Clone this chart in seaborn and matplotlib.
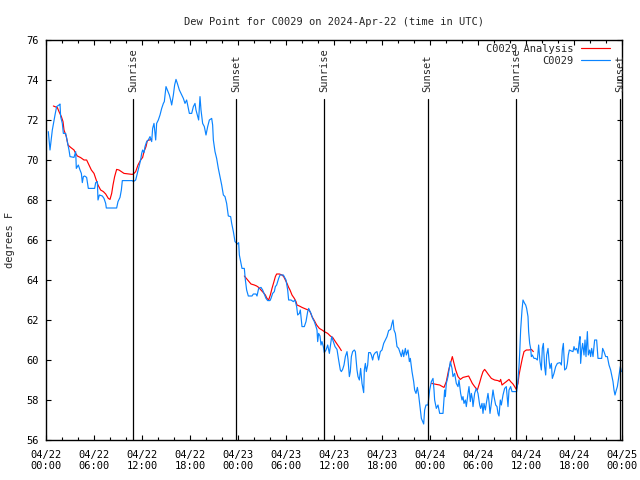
import pandas as pd
import matplotlib
matplotlib.use("Agg")
import matplotlib.pyplot as plt
import matplotlib.dates as mdates
import seaborn as sns

sns.set_style("ticks")
plt.rcParams["font.family"] = ["DejaVu Sans Mono"]
plt.rcParams["font.size"] = 7.5

# hours since 2024-04-22 00:00 UTC
blue_hours = [0.29, 0.5, 0.79, 1.125, 1.33, 1.625, 1.75, 1.83, 2.04, 2.17, 2.46, 2.67, 2.875, 3.0,
              3.5, 3.71, 3.79, 4.04, 4.25, 4.42, 4.54, 4.67, 4.83, 5.08, 5.29, 6.08, 6.21, 6.42,
              6.5, 6.67, 7.04, 7.25, 7.46, 7.54, 8.83, 9.0, 9.25, 9.42, 9.54, 10.79, 10.92, 11.21,
              11.42, 11.625, 11.83, 11.96, 12.08, 12.25, 12.375, 12.58, 12.79, 13.0, 13.21, 13.33,
              13.5, 13.71, 13.83, 14.04, 14.25, 14.46, 14.67, 14.79, 15.0, 15.17, 15.42, 15.58,
              15.71, 15.92, 16.08, 16.25, 16.42, 16.67, 16.96, 17.17, 17.375, 17.58, 17.71, 17.92,
              18.21, 18.42, 18.625, 18.75, 18.92, 19.08, 19.25, 19.375, 19.58, 19.79, 20.0, 20.21,
              20.42, 20.71, 20.83, 20.92, 21.125, 21.33, 21.54, 21.75, 21.96, 22.17, 22.375, 22.58,
              22.79, 23.08, 23.21, 23.42, 23.625, 23.92, 24.08, 24.17, 24.375, 24.5, 24.79, 24.92,
              25.08, 25.29, 25.75, 25.92, 26.25, 26.375, 26.58, 26.875, 27.08, 27.5, 27.71, 28.0,
              28.125, 28.33, 28.54, 28.67, 28.83, 29.08, 29.25, 29.67, 30.0, 30.21, 30.33, 30.625,
              30.92, 31.125, 31.33, 31.46, 31.67, 31.79, 32.0, 32.29, 32.5, 32.71, 32.83, 33.125,
              33.33, 33.54, 33.75, 33.875, 33.96, 34.08, 34.25, 34.375, 34.5, 34.67, 34.79, 35.0,
              35.21, 35.42, 35.71, 35.92, 36.125, 36.375, 36.58, 36.79, 36.92, 37.08, 37.25, 37.42,
              37.625, 37.75, 37.92, 38.04, 38.17, 38.33, 38.54, 38.67, 38.875, 39.0, 39.17, 39.33,
              39.5, 39.71, 39.79, 39.92, 40.04, 40.21, 40.33, 40.54, 40.67, 40.83, 40.96, 41.17,
              41.375, 41.58, 41.79, 42.0, 42.21, 42.42, 42.625, 42.83, 43.08, 43.25, 43.375, 43.5,
              43.67, 43.875, 44.08, 44.29, 44.42, 44.58, 44.71, 44.92, 45.04, 45.25, 45.42, 45.54,
              45.75, 45.96, 46.08, 46.25, 46.42, 46.58, 46.79, 46.92, 47.21, 47.33, 47.5, 47.75,
              47.96, 48.17, 48.375, 48.5, 48.58, 48.79, 49.0, 49.21, 49.625, 49.75, 49.83, 49.92,
              50.04, 50.25, 50.375, 50.54, 50.75, 50.875, 51.08, 51.29, 51.5, 51.625, 51.83, 52.0,
              52.125, 52.25, 52.42, 52.54, 52.75, 52.875, 53.04, 53.17, 53.29, 53.375, 53.58, 53.79,
              54.0, 54.21, 54.33, 54.5, 54.625, 54.75, 54.92, 55.04, 55.25, 55.375, 55.5, 55.67,
              55.875, 56.0, 56.21, 56.375, 56.5, 56.625, 56.79, 56.92, 57.125, 57.33, 57.54, 57.75,
              57.875, 58.08, 58.25, 58.42, 58.83, 59.0, 59.125, 59.21, 59.33, 59.5, 59.625, 59.83,
              59.96, 60.08, 60.25, 60.33, 60.46, 60.58, 60.67, 60.79, 61.0, 61.21, 61.42, 61.58,
              61.75, 61.92, 62.04, 62.17, 62.33, 62.46, 62.58, 62.75, 62.875, 63.0, 63.17, 63.29,
              63.5, 63.71, 63.92, 64.25, 64.42, 64.54, 64.67, 64.75, 64.83, 65.04, 65.17, 65.29,
              65.42, 65.67, 65.875, 66.0, 66.125, 66.33, 66.5, 66.625, 66.75, 66.83, 66.96, 67.08,
              67.25, 67.375, 67.5, 67.67, 67.79, 67.96, 68.08, 68.21, 68.375, 68.58, 68.83, 69.0,
              69.46, 69.58, 69.75, 69.96, 70.17, 70.375, 70.58, 70.71, 70.875, 71.0, 71.125, 71.29,
              71.42, 71.54, 71.67, 71.79, 71.92]
blue_vals = [71.42, 70.5, 71.5, 72.25, 72.67, 72.75, 72.8, 72.17, 71.83, 71.33, 71.33, 70.92, 70.5, 70.17,
             70.13, 70.42, 69.58, 69.75, 69.5, 69.33, 68.87, 69.17, 69.2, 69.13, 68.58, 68.58, 68.87, 68.92,
             68.0, 68.25, 68.2, 68.08, 67.83, 67.6, 67.6, 67.92, 68.13, 68.5, 68.97, 68.97, 68.92, 69.0,
             69.33, 69.67, 70.0, 70.33, 70.5, 70.37, 70.67, 70.92, 71.0, 71.17, 70.92, 71.58,
             71.83, 71.0, 71.83, 72.0, 72.25, 72.58, 72.83, 72.92, 73.67, 73.5, 73.25, 73.0,
             72.75, 73.25, 73.75, 74.03, 73.83, 73.5, 73.25, 73.08, 72.83, 73.0, 72.75, 72.33,
             72.33, 72.67, 72.83, 72.5, 72.25, 72.0, 73.17, 72.5, 71.83, 71.67, 71.25, 71.67,
             72.0, 72.08, 71.75, 71.0, 70.42, 70.08, 69.58, 69.17, 68.75, 68.25, 68.17, 67.83,
             67.2, 67.17, 66.83, 66.42, 65.92, 65.8, 65.87, 65.25, 64.83, 64.58, 64.58, 64.0,
             63.5, 63.2, 63.2, 63.3, 63.3, 63.2, 63.58, 63.63, 63.5, 63.08, 62.97, 62.97,
             63.08, 63.33, 63.42, 63.67, 63.75, 64.08, 64.25, 64.25, 64.0, 63.5, 63.0, 63.0,
             62.92, 63.0, 62.67, 62.25, 62.33, 62.5, 61.67, 61.67, 61.92, 62.42, 62.58, 62.33,
             62.08, 61.92, 61.67, 61.5, 60.92, 61.33, 61.2, 60.75, 60.92, 60.67, 60.37, 60.5,
             60.75, 60.33, 61.17, 60.92, 60.67, 60.53, 60.0, 59.5, 59.42, 59.53, 59.75, 60.17,
             60.42, 60.03, 59.17, 59.42, 60.17, 60.42, 60.5, 60.42, 59.5, 59.17, 59.0, 59.58,
             58.83, 58.37, 59.5, 59.83, 59.42, 59.75, 60.37, 60.37, 60.25, 60.0, 60.25, 60.37,
             60.42, 60.0, 60.42, 60.5, 60.83, 61.0, 61.17, 61.47, 61.53, 61.83, 62.0, 61.5,
             61.33, 60.67, 60.58, 60.33, 60.17, 60.5, 60.17, 60.58, 60.25, 60.5, 59.92, 60.08,
             59.42, 58.92, 58.5, 58.33, 58.63, 58.25, 57.5, 57.08, 56.8, 57.5, 57.75, 57.75,
             58.5, 58.92, 59.08, 58.5, 58.0, 57.58, 57.75, 57.33, 57.33, 58.0, 58.5, 58.17,
             58.83, 59.17, 59.5, 59.92, 59.58, 59.17, 59.33, 58.83, 58.67, 59.0, 58.33, 58.0,
             58.17, 57.83, 58.0, 57.67, 58.33, 58.67, 57.92, 58.33, 58.08, 57.67, 58.33, 58.58,
             58.33, 57.75, 57.58, 57.83, 57.33, 57.83, 57.5, 57.83, 58.33, 57.92, 57.33, 57.83,
             58.5, 58.17, 57.75, 57.67, 57.33, 57.2, 58.0, 57.75, 58.25, 58.58, 58.67, 57.67,
             58.5, 58.67, 58.42, 58.42, 58.42, 59.0, 59.67, 60.33, 61.5, 62.5, 63.0, 62.83,
             62.75, 62.58, 62.17, 61.42, 60.83, 60.58, 60.17, 60.25, 60.08, 60.08, 60.0, 60.75,
             59.92, 59.5, 60.58, 60.83, 59.67, 59.25, 60.25, 60.58, 60.0, 59.58, 59.83, 59.08,
             59.33, 59.67, 59.83, 59.87, 59.75, 60.5, 60.83, 60.17, 59.5, 59.58, 59.83, 60.25,
             60.5, 60.45, 60.42, 60.67, 60.5, 60.58, 60.33, 60.83, 61.17, 59.83, 60.5, 60.83,
             60.25, 61.0, 60.17, 61.42, 60.25, 60.5, 60.17, 60.58, 60.17, 61.0, 61.0, 60.08,
             60.08, 60.58, 60.42, 60.17, 60.17, 59.75, 59.5, 59.25, 58.92, 58.5, 58.25, 58.5,
             58.67, 59.0, 59.33, 59.67, 59.42]

# analysis series, three separate stretches
red_a_hours = [0.92, 1.42, 1.625, 1.92, 2.125, 2.25, 2.54, 2.75, 3.08, 3.5, 3.71, 3.92, 4.33, 4.75,
               5.08, 5.375, 5.67, 6.0, 6.21, 6.5, 6.83, 7.17, 7.46, 7.79, 8.0, 8.21, 8.375, 8.58,
               8.83, 9.125, 9.42, 9.75, 10.375, 10.79, 11.0, 11.21, 11.5, 11.83, 12.08, 12.25,
               12.5, 12.67, 12.92, 13.21]
red_a_vals = [72.7, 72.62, 72.42, 72.17, 71.92, 71.5, 71.17, 70.75, 70.63, 70.5, 70.33, 70.2, 70.12, 70.0,
              70.0, 69.75, 69.5, 69.33, 69.08, 68.75, 68.5, 68.42, 68.3, 68.08, 68.03, 68.33, 68.75, 69.17,
              69.53, 69.5, 69.42, 69.33, 69.3, 69.28, 69.33, 69.42, 69.75, 70.0, 70.13, 70.42,
              70.67, 70.97, 71.0, 71.03]
red_b_hours = [24.79, 25.21, 25.625, 26.04, 26.33, 26.58, 26.875, 27.17, 27.42, 27.625, 27.83, 28.04,
               28.25, 28.46, 28.67, 28.83, 29.17, 29.5, 29.71, 29.92, 30.125, 30.33, 30.5, 30.75,
               31.04, 31.25, 31.375, 31.67, 32.0, 32.29, 32.58, 32.83, 33.0, 33.25, 33.54, 33.83,
               34.17, 34.5, 34.79, 35.21, 35.54, 35.83, 36.17, 36.46, 36.67, 36.92]
red_b_vals = [64.2, 64.0, 63.8, 63.75, 63.7, 63.63, 63.5, 63.37, 63.25, 63.08, 63.0, 63.25,
              63.58, 63.87, 64.17, 64.3, 64.3, 64.25, 64.17, 64.0, 63.83, 63.63, 63.5, 63.25,
              63.08, 62.92, 62.75, 62.7, 62.63, 62.58, 62.53, 62.5, 62.42, 62.17, 61.97, 61.75,
              61.58, 61.5, 61.42, 61.33, 61.2, 61.13, 60.92, 60.75, 60.63, 60.47]
red_c_hours = [48.2, 48.79, 49.21, 49.42, 49.75, 50.04, 50.33, 50.54, 50.79, 51.0, 51.21, 51.5, 51.79,
               52.125, 52.54, 52.83, 53.08, 53.29, 53.58, 53.92, 54.21, 54.42, 54.625, 54.83, 55.04,
               55.25, 55.67, 56.08, 56.5, 56.71, 56.83, 57.0, 57.25, 57.54, 57.875, 58.08, 58.375,
               58.58, 58.79, 59.0, 59.125, 59.33, 59.54, 59.75, 60.04, 60.375, 60.67, 60.92]
red_c_vals = [58.83, 58.78, 58.75, 58.7, 58.63, 58.92, 59.5, 59.8, 60.17, 59.83, 59.5, 59.17, 59.03,
              59.13, 59.17, 59.2, 59.0, 58.83, 58.67, 58.5, 58.87, 59.17, 59.42, 59.53, 59.42,
              59.3, 59.08, 59.0, 58.97, 58.92, 59.03, 58.75, 58.83, 58.92, 59.03, 58.92, 58.8,
              58.67, 58.53, 58.83, 59.25, 59.67, 60.08, 60.42, 60.5, 60.5, 60.53, 60.42]

sun_hours = [10.9, 23.8, 34.8, 47.7, 58.8, 71.75]
sun_names = ["Sunrise", "Sunset", "Sunrise", "Sunset", "Sunrise", "Sunset"]

start = pd.Timestamp("2024-04-22 00:00")


def to_time(hours):
    return start + pd.to_timedelta(hours, unit="h")


fig = plt.figure(figsize=(6.4, 4.8), dpi=100)
ax = fig.add_axes([46 / 640, 40 / 480, 576 / 640, 400 / 480])

red = "#ff0000"
blue = "#0a84ff"
red_segments = [(red_a_hours, red_a_vals), (red_b_hours, red_b_vals), (red_c_hours, red_c_vals)]
for i, (hrs, vals) in enumerate(red_segments):
    sns.lineplot(x=to_time(hrs), y=vals, ax=ax, color=red, lw=0.85, estimator=None,
                 label="C0029 Analysis" if i == 0 else "_nolegend_")
sns.lineplot(x=to_time(blue_hours), y=blue_vals, ax=ax, color=blue, lw=0.85,
             estimator=None, label="C0029")

# sunrise / sunset markers
for h, name in zip(sun_hours, sun_names):
    t = to_time(h)
    ax.axvline(t, ymin=0, ymax=0.8525, color="black", lw=0.9)
    ax.text(t, 0.87, name, transform=ax.get_xaxis_transform(), rotation=90,
            ha="center", va="bottom")

ax.set_xlim(start, to_time(72))
ax.set_ylim(56, 76)
ax.set_yticks(range(56, 77, 2))
ax.xaxis.set_major_locator(mdates.HourLocator(byhour=[0, 6, 12, 18]))
ax.xaxis.set_minor_locator(mdates.HourLocator(interval=2))
ax.xaxis.set_major_formatter(mdates.DateFormatter("%m/%d\n%H:%M"))
ax.tick_params(which="both", direction="in", top=True, right=True, width=0.8, colors="black")
ax.tick_params(which="major", length=3.8)
ax.tick_params(which="minor", length=2.0)
ax.tick_params(axis="x", which="major", pad=7)
ax.tick_params(axis="y", which="major", pad=5)
for sp in ax.spines.values():
    sp.set_linewidth(1.0)
    sp.set_color("black")

ax.set_xlabel("")
ax.set_ylabel("degrees F")
ax.yaxis.set_label_coords(-0.054, 0.5)
ax.set_title("Dew Point for C0029 on 2024-Apr-22 (time in UTC)", pad=11, fontsize=7.5)

ax.legend(loc="upper right", bbox_to_anchor=(0.979, 0.99), frameon=False, markerfirst=False,
          handlelength=2.8, handletextpad=0.7, labelspacing=0.2, borderaxespad=0, borderpad=0)

fig.savefig("out.png", dpi=100)
